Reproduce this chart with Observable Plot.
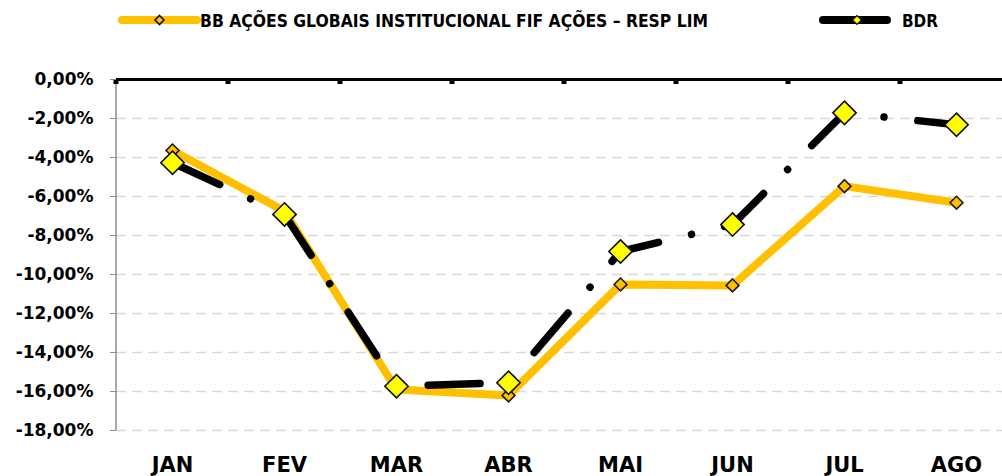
<!DOCTYPE html>
<html>
<head>
<meta charset="utf-8">
<script src="https://cdn.jsdelivr.net/npm/d3@7"></script>
<script src="https://cdn.jsdelivr.net/npm/@observablehq/plot@0.6"></script>
<style>
  html, body { margin: 0; padding: 0; background: #fff; overflow: hidden; }
  #legend { display: block; }
</style>
</head>
<body>
<svg id="legend" width="1002" height="40"></svg>
<div id="chart"></div>
<script>
// ---- Data ----
const months = ["JAN", "FEV", "MAR", "ABR", "MAI", "JUN", "JUL", "AGO"];
const bbAcoes = [-3.64, -6.75, -15.9, -16.2, -10.51, -10.56, -5.47, -6.32];
const bdr = [-4.27, -6.92, -15.73, -15.55, -8.82, -7.44, -1.71, -2.32];
const yTicks = [0, -2, -4, -6, -8, -10, -12, -14, -16, -18];
const seriesNames = ["BB AÇÕES GLOBAIS INSTITUCIONAL FIF AÇÕES – RESP LIM", "BDR"];

const ORANGE = "#FFC000";
const YELLOW = "#FFFF00";
const FONT = "'DejaVu Sans', sans-serif";

const bbData = months.map((m, i) => ({month: m, value: bbAcoes[i]}));
const bdrData = months.map((m, i) => ({month: m, value: bdr[i]}));

const fmt = v => v.toFixed(2).replace(".", ",") + "%";

// ---- Legend ----
const NS = "http://www.w3.org/2000/svg";
const leg = document.getElementById("legend");
function el(tag, attrs) {
  const e = document.createElementNS(NS, tag);
  for (const k in attrs) e.setAttribute(k, attrs[k]);
  leg.appendChild(e);
  return e;
}
function diamond(cx, cy, r, fill, sw) {
  el("path", {d: `M${cx},${cy - r}L${cx + r},${cy}L${cx},${cy + r}L${cx - r},${cy}Z`, fill, stroke: "#111", "stroke-width": sw});
}
el("line", {x1: 122, x2: 197, y1: 20, y2: 20, stroke: ORANGE, "stroke-width": 8, "stroke-linecap": "round"});
diamond(159.5, 20, 4.5, ORANGE, 1.6);
let t1 = el("text", {x: 200, y: 26.5, "font-family": FONT, "font-weight": "bold", "font-size": 17, textLength: 508, lengthAdjust: "spacingAndGlyphs", fill: "#000"});
t1.textContent = seriesNames[0];
el("line", {x1: 823, x2: 887, y1: 20, y2: 20, stroke: "#000", "stroke-width": 8, "stroke-linecap": "round"});
diamond(857, 20, 4.5, YELLOW, 1.2);
let t2 = el("text", {x: 902, y: 26.5, "font-family": FONT, "font-weight": "bold", "font-size": 17, textLength: 36, lengthAdjust: "spacingAndGlyphs", fill: "#000"});
t2.textContent = seriesNames[1];

// ---- Frame decorations (left axis line + top boundary ticks) ----
function frameDecor(index, scales, values, dims) {
  const g = d3.create("svg:g");
  const x0 = dims.marginLeft;
  g.append("line")
    .attr("x1", x0).attr("x2", x0)
    .attr("y1", dims.marginTop).attr("y2", dims.height - dims.marginBottom)
    .attr("stroke", "#8c8c8c").attr("stroke-width", 1.5);
  const step = scales.x(months[1]) - scales.x(months[0]);
  const y0 = scales.y(0);
  months.forEach(m => {
    const bx = scales.x(m) - step / 2;
    g.append("rect")
      .attr("x", bx - 2.5).attr("y", y0)
      .attr("width", 5).attr("height", 5)
      .attr("fill", "#000");
  });
  return g.node();
}

const chart = Plot.plot({
  width: 1002,
  height: 436,
  marginTop: 39,
  marginBottom: 46,
  marginLeft: 116,
  marginRight: 0,
  style: {fontFamily: FONT, fontWeight: "bold", color: "#000", background: "#fff", overflow: "hidden"},
  x: {type: "point", domain: months, range: [116, 1012], padding: 0.5, label: null},
  y: {domain: [-18, 0], label: null},
  marks: [
    Plot.ruleY(yTicks.filter(v => v !== 0), {stroke: "#d9d9d9", strokeWidth: 1.6, strokeDasharray: "10 6"}),
    frameDecor,
    Plot.ruleY([0], {stroke: "#000", strokeWidth: 3}),
    Plot.axisY({ticks: yTicks, tickSize: 6, tickPadding: 17, stroke: "#8c8c8c", fill: "#000", tickFormat: fmt, fontSize: 17, fontWeight: "bold", label: null}),
    Plot.axisX({tickSize: 0, tickPadding: 27, fontSize: 21, fontWeight: "bold", fill: "#000", label: null}),
    Plot.line(bbData, {x: "month", y: "value", stroke: ORANGE, strokeWidth: 8, strokeLinejoin: "round", strokeLinecap: "round"}),
    Plot.dot(bbData, {x: "month", y: "value", symbol: "diamond2", r: 5.8, fill: ORANGE, stroke: "#1a1a1a", strokeWidth: 1.6}),
    Plot.line(bdrData, {x: "month", y: "value", stroke: "#000", strokeWidth: 7.5, strokeLinecap: "round", strokeLinejoin: "round", strokeDasharray: "52 34 0.01 34"}),
    Plot.dot(bdrData, {x: "month", y: "value", symbol: "diamond2", r: 10.5, fill: YELLOW, stroke: "#111", strokeWidth: 1.6})
  ]
});
document.getElementById("chart").appendChild(chart);
</script>
</body>
</html>
